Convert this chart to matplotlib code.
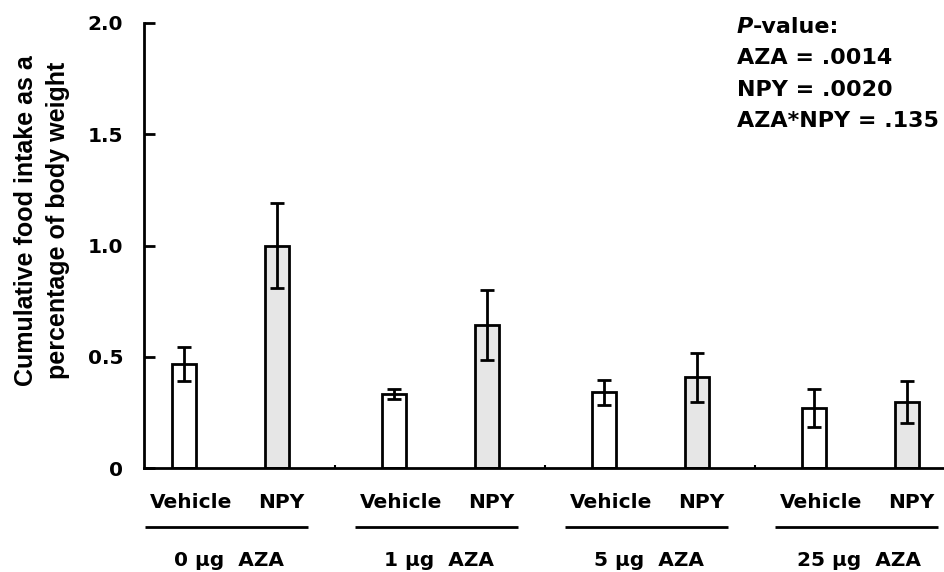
import numpy as np
import matplotlib
matplotlib.use('Agg')
import matplotlib.pyplot as plt

plt.rcParams['font.family'] = ['DejaVu Sans']
plt.rcParams['font.weight'] = 'bold'

# ── data ─────────────────────────────────────────────────────────────────────
groups       = ['0 µg  AZA', '1 µg  AZA', '5 µg  AZA', '25 µg  AZA']
treatments   = ['Vehicle', 'NPY']
vehicle_mean = [0.467, 0.333, 0.340, 0.270]
vehicle_sem  = [0.078, 0.024, 0.056, 0.086]
npy_mean     = [1.000, 0.643, 0.408, 0.297]
npy_sem      = [0.190, 0.157, 0.110, 0.095]
yticks       = [0, 0.5, 1.0, 1.5, 2.0]
ytick_labels = ['0', '0.5', '1.0', '1.5', '2.0']
pvalues      = ['AZA = .0014', 'NPY = .0020', 'AZA*NPY = .135']

# ── layout ───────────────────────────────────────────────────────────────────
OFFSET = 0.445     # NPY bar sits this far right of its vehicle bar
WIDTH  = 0.114
LW     = 2.0

x_veh = np.arange(len(groups), dtype=float)
x_npy = x_veh + OFFSET

fig = plt.figure(figsize=(9.45, 5.72), dpi=100)
ax = fig.add_axes([0.1524, 0.1818, 0.8476, 0.7780])

err_kw = dict(ecolor='black', elinewidth=LW, capsize=5, capthick=LW)
ax.bar(x_veh, vehicle_mean, WIDTH, yerr=vehicle_sem, color='white',
       edgecolor='black', linewidth=LW, error_kw=err_kw, zorder=2)
ax.bar(x_npy, npy_mean, WIDTH, yerr=npy_sem, color='#e6e6e6',
       edgecolor='black', linewidth=LW, error_kw=err_kw, zorder=2)

ax.set_xlim(-0.19, 3.624)
ax.set_ylim(0, 2.0)
ax.set_yticks(yticks)
ax.set_yticklabels(ytick_labels, fontsize=14.5, fontweight='bold')
ax.tick_params(axis='y', direction='in', length=8, width=LW, pad=15)

# tiny tick marks between groups on the x axis
ax.set_xticks(x_veh[1:] - (1 - OFFSET) / 2 - 0.005)
ax.set_xticklabels([])
ax.tick_params(axis='x', direction='in', length=2, width=1.5)

for s in ['top', 'right']:
    ax.spines[s].set_visible(False)
for s in ['left', 'bottom']:
    ax.spines[s].set_linewidth(LW)

ax.set_ylabel('Cumulative food intake as a\npercentage of body weight',
              family='Liberation Sans', fontsize=18, fontweight='bold',
              linespacing=1.4)
ax.yaxis.set_label_coords(-0.093, 0.557)

# treatment labels, underline and dose label under each pair
trans = ax.get_xaxis_transform()
for i, g in enumerate(groups):
    ax.text(x_veh[i] + 0.036, -0.078, treatments[0], transform=trans,
            ha='center', va='center', fontsize=14.5, fontweight='bold')
    ax.text(x_npy[i] + 0.02, -0.078, treatments[1], transform=trans,
            ha='center', va='center', fontsize=14.5, fontweight='bold')
    mid = (x_veh[i] + x_npy[i]) / 2 - 0.02
    ax.plot([mid - 0.39, mid + 0.39], [-0.133, -0.133], transform=trans,
            color='black', lw=2.0, clip_on=False, solid_capstyle='butt')
    ax.text(mid + 0.01, -0.208, g, transform=trans,
            ha='center', va='center', fontsize=14.5, fontweight='bold')

# p-value box, top right
PX = 0.740
t = ax.text(PX, 0.9775, 'P', transform=ax.transAxes, ha='left',
            va='baseline', fontsize=16, fontweight='bold', fontstyle='italic')
ax.annotate('-value:', xy=(1, 0), xycoords=t, ha='left', va='bottom',
            fontsize=16, fontweight='bold')
for k, line in enumerate(pvalues):
    ax.text(PX, 0.9775 - 0.0703 * (k + 1), line, transform=ax.transAxes,
            ha='left', va='baseline', fontsize=16, fontweight='bold')

fig.savefig('out.png', dpi=100)
